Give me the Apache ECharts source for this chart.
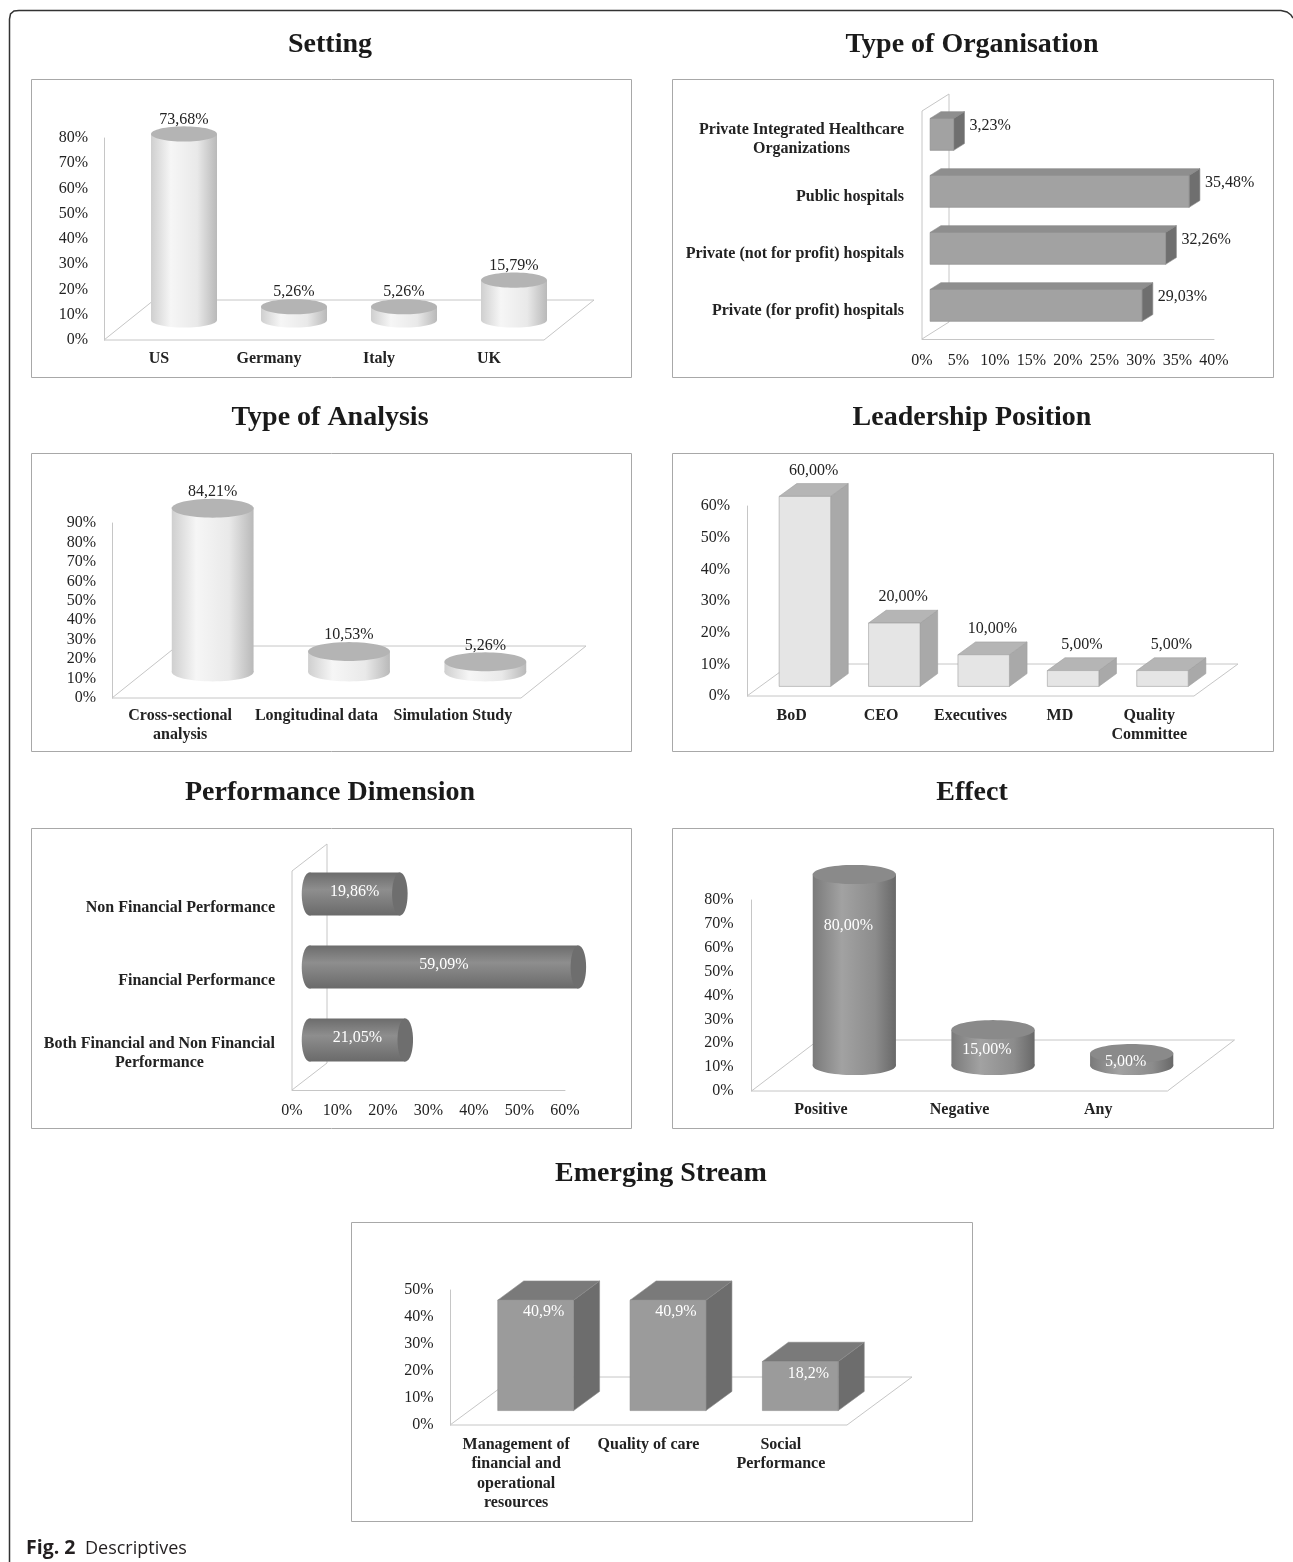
<!DOCTYPE html>
<html>
<head>
<meta charset="utf-8">
<script src="https://cdn.jsdelivr.net/npm/echarts/dist/echarts.min.js"></script>
<style>
html,body{margin:0;padding:0;background:#ffffff;}
#c{width:1293px;height:1562px;}
</style>
</head>
<body>
<div id="c"></div>
<script>
// ---------- DATA ----------
const settingCats = ['US', 'Germany', 'Italy', 'UK'];
const settingVals = [73.68, 5.26, 5.26, 15.79];

const orgCats = ['Private Integrated Healthcare\nOrganizations', 'Public hospitals', 'Private (not for profit) hospitals', 'Private (for profit) hospitals'];
const orgVals = [3.23, 35.48, 32.26, 29.03];

const analysisCats = ['Cross-sectional\nanalysis', 'Longitudinal data', 'Simulation Study'];
const analysisVals = [84.21, 10.53, 5.26];

const leaderCats = ['BoD', 'CEO', 'Executives', 'MD', 'Quality\nCommittee'];
const leaderVals = [60, 20, 10, 5, 5];

const perfCats = ['Non Financial Performance', 'Financial Performance', 'Both Financial and Non Financial\nPerformance'];
const perfVals = [19.86, 59.09, 21.05];

const effectCats = ['Positive', 'Negative', 'Any'];
const effectVals = [80, 15, 5];

const streamCats = ['Management of\nfinancial and\noperational\nresources', 'Quality of care', 'Social\nPerformance'];
const streamVals = [40.9, 40.9, 18.2];

const panelTitles = ['Setting', 'Type of Organisation', 'Type of Analysis', 'Leadership Position', 'Performance Dimension', 'Effect', 'Emerging Stream'];
const captionBold = 'Fig. 2';
const captionText = 'Descriptives';

// ---------- STYLE ----------
const SERIF = '"Liberation Serif", "Times New Roman", serif';
const TXT = '#222222';
const LINE = '#c6c6c6';

function fmt(v, d) { return v.toFixed(d).replace('.', ',') + '%'; }
function lin(x2, y2, stops) { return { type: 'linear', x: 0, y: 0, x2: x2, y2: y2, colorStops: stops, global: false }; }
function ellPts(cx, cy, rx, ry) {
  const pts = [];
  for (let k = 0; k < 64; k++) { const a = k / 64 * Math.PI * 2; pts.push([cx + rx * Math.cos(a), cy + ry * Math.sin(a)]); }
  return pts;
}

const chart = echarts.init(document.getElementById('c'), null, { renderer: 'canvas', width: 1293, height: 1562 });

const grids = [], xAxes = [], yAxes = [], series = [];

function valueAxis(gi, max, interval, margin, pos) {
  return {
    gridIndex: gi, type: 'value', min: 0, max: max, interval: interval, position: pos,
    axisLine: { show: true, lineStyle: { color: LINE, width: 1 } },
    axisTick: { show: false }, splitLine: { show: false },
    axisLabel: { formatter: '{value}%', margin: margin, fontFamily: SERIF, fontSize: 16, color: TXT, lineHeight: 19.5 }
  };
}
function catAxisX(gi, cats, margin) {
  return {
    gridIndex: gi, type: 'category', data: cats,
    axisLine: { show: false }, axisTick: { show: false }, splitLine: { show: false },
    axisLabel: { interval: 0, margin: margin, fontFamily: SERIF, fontWeight: 'bold', fontSize: 16, color: TXT, lineHeight: 19.5, hideOverlap: false }
  };
}
function catAxisY(gi, cats, margin) {
  return {
    gridIndex: gi, type: 'category', data: cats, inverse: true,
    axisLine: { show: false }, axisTick: { show: false }, splitLine: { show: false },
    axisLabel: {
      interval: 0, margin: margin, hideOverlap: false,
      formatter: function (v) { return v.split('\n').map(function (s) { return '{c|' + s + '}'; }).join('\n'); },
      rich: { c: { align: 'center', fontFamily: SERIF, fontWeight: 'bold', fontSize: 16, color: TXT, lineHeight: 19.5 } }
    }
  };
}

function floorRender(depth) {
  return function (params, api) {
    const c = params.coordSys, b = c.y + c.height, dx = depth[0], dy = depth[1];
    return {
      type: 'polygon', silent: true,
      shape: { points: [[c.x, b], [c.x + c.width, b], [c.x + c.width + dx, b + dy], [c.x + dx, b + dy]] },
      style: { fill: 'none', stroke: LINE, lineWidth: 1 }
    };
  };
}
function wallRender(depth) {
  return function (params, api) {
    const c = params.coordSys, b = c.y + c.height, dx = depth[0], dy = depth[1];
    return {
      type: 'polygon', silent: true,
      shape: { points: [[c.x, b], [c.x, c.y], [c.x + dx, c.y + dy], [c.x + dx, b + dy]] },
      style: { fill: 'none', stroke: LINE, lineWidth: 1 }
    };
  };
}

function cylV(cfg) {
  return function (params, api) {
    const i = api.value(0), v = api.value(1);
    const b = api.coord([i, 0]), t = api.coord([i, v]);
    const w = api.size([1, 0])[0] * cfg.w;
    const sx = cfg.depth[0] * 0.5, sy = cfg.depth[1] * 0.5;
    const cx = b[0] + sx, yb = b[1] + sy, yt = t[1] + sy;
    const rx = w / 2, ry = rx * 0.23;
    const kids = [
      { type: 'polygon', shape: { points: ellPts(cx, yb, rx, ry) }, style: { fill: lin(1, 0, cfg.body) } },
      { type: 'rect', shape: { x: cx - rx, y: yt, width: 2 * rx, height: yb - yt }, style: { fill: lin(1, 0, cfg.body) } },
      { type: 'polygon', shape: { points: ellPts(cx, yt, rx, ry) }, style: { fill: cfg.top } }
    ];
    let lx, ly;
    if (cfg.inside) { lx = cx - 6; ly = Math.min(yt + 51, (yt + yb) / 2 + 2); }
    else { lx = cx; ly = yt - ry - 7; }
    kids.push({ type: 'text', style: { text: fmt(v, 2), x: lx, y: ly, align: 'center', verticalAlign: 'middle', fontFamily: SERIF, fontSize: 16, fill: cfg.inside ? '#ffffff' : TXT } });
    return { type: 'group', children: kids };
  };
}
function cylH(cfg) {
  return function (params, api) {
    const v = api.value(0), i = api.value(1);
    const l = api.coord([0, i]), r = api.coord([v, i]);
    const h = api.size([0, 1])[1] * cfg.w;
    const sx = cfg.depth[0] * 0.5, sy = cfg.depth[1] * 0.5;
    const yc = l[1] + sy, xl = l[0] + sx, xr = r[0] + sx;
    const ry = h / 2, rx = ry * 0.36;
    return {
      type: 'group', children: [
        { type: 'polygon', shape: { points: ellPts(xl, yc, rx, ry) }, style: { fill: lin(0, 1, cfg.body) } },
        { type: 'rect', shape: { x: xl, y: yc - ry, width: xr - xl, height: 2 * ry }, style: { fill: lin(0, 1, cfg.body) } },
        { type: 'polygon', shape: { points: ellPts(xr, yc, rx, ry) }, style: { fill: cfg.top } },
        { type: 'text', style: { text: fmt(v, 2), x: (xl + xr) / 2, y: yc - 2, align: 'center', verticalAlign: 'middle', fontFamily: SERIF, fontSize: 16, fill: '#ffffff' } }
      ]
    };
  };
}
function boxV(cfg) {
  return function (params, api) {
    const i = api.value(0), v = api.value(1);
    const b = api.coord([i, 0]), t = api.coord([i, v]);
    const w = api.size([1, 0])[0] * cfg.w;
    const D = cfg.depth, fx = D[0] * 0.3, fy = D[1] * 0.3, tx = D[0] * 0.4, ty = D[1] * 0.4;
    const x0 = b[0] + fx - w / 2, x1 = x0 + w, yT = t[1] + fy, yB = b[1] + fy;
    const kids = [
      { type: 'polygon', shape: { points: [[x1, yT], [x1 + tx, yT + ty], [x1 + tx, yB + ty], [x1, yB]] }, style: { fill: cfg.side, stroke: cfg.stroke, lineWidth: 0.6 } },
      { type: 'polygon', shape: { points: [[x0, yT], [x1, yT], [x1 + tx, yT + ty], [x0 + tx, yT + ty]] }, style: { fill: cfg.top, stroke: cfg.stroke, lineWidth: 0.6 } },
      { type: 'rect', shape: { x: x0, y: yT, width: w, height: yB - yT }, style: { fill: cfg.front, stroke: cfg.stroke, lineWidth: 0.6 } }
    ];
    let lx, ly;
    if (cfg.inside) { lx = (x0 + x1) / 2 + 8; ly = yT + 12; }
    else { lx = (x0 + x1) / 2 + tx / 2; ly = yT + ty - 13; }
    kids.push({ type: 'text', style: { text: fmt(v, cfg.dec), x: lx, y: ly, align: 'center', verticalAlign: 'middle', fontFamily: SERIF, fontSize: 16, fill: cfg.inside ? '#ffffff' : TXT } });
    return { type: 'group', children: kids };
  };
}
function boxH(cfg) {
  return function (params, api) {
    const v = api.value(0), i = api.value(1);
    const l = api.coord([0, i]), r = api.coord([v, i]);
    const h = api.size([0, 1])[1] * cfg.w;
    const D = cfg.depth, fx = D[0] * 0.3, fy = D[1] * 0.3, tx = D[0] * 0.4, ty = D[1] * 0.4;
    const yc = l[1] + fy, y0 = yc - h / 2, y1 = yc + h / 2, xl = l[0] + fx, xr = r[0] + fx;
    return {
      type: 'group', children: [
        { type: 'polygon', shape: { points: [[xl, y0], [xr, y0], [xr + tx, y0 + ty], [xl + tx, y0 + ty]] }, style: { fill: cfg.top, stroke: cfg.stroke, lineWidth: 0.6 } },
        { type: 'polygon', shape: { points: [[xr, y0], [xr + tx, y0 + ty], [xr + tx, y1 + ty], [xr, y1]] }, style: { fill: cfg.side, stroke: cfg.stroke, lineWidth: 0.6 } },
        { type: 'rect', shape: { x: xl, y: y0, width: xr - xl, height: h }, style: { fill: cfg.front, stroke: cfg.stroke, lineWidth: 0.6 } },
        { type: 'text', style: { text: fmt(v, 2), x: xr + tx + 5, y: yc - 9, align: 'left', verticalAlign: 'middle', fontFamily: SERIF, fontSize: 16, fill: TXT } }
      ]
    };
  };
}

const lightBody = [{ offset: 0, color: '#cfcfcf' }, { offset: 0.3, color: '#f6f6f6' }, { offset: 0.7, color: '#e9e9e9' }, { offset: 1, color: '#b9b9b9' }];
const darkBody = [{ offset: 0, color: '#7a7a7a' }, { offset: 0.35, color: '#a2a2a2' }, { offset: 0.75, color: '#8c8c8c' }, { offset: 1, color: '#686868' }];
const darkBodyH = [{ offset: 0, color: '#6c6c6c' }, { offset: 0.4, color: '#8e8e8e' }, { offset: 1, color: '#6a6a6a' }];

function addVertical(gi, rect, cats, vals, max, xMargin, yMargin, depth, render) {
  grids.push({ left: rect[0], top: rect[1], width: rect[2], height: rect[3], outerBoundsMode: 'none', containLabel: false });
  xAxes.push(catAxisX(gi, cats, xMargin));
  yAxes.push(valueAxis(gi, max, 10, yMargin, 'left'));
  series.push({ type: 'custom', xAxisIndex: gi, yAxisIndex: gi, data: [[0, 0]], renderItem: floorRender(depth), silent: true, z: 1, clip: false });
  series.push({ type: 'custom', xAxisIndex: gi, yAxisIndex: gi, data: vals.map(function (v, i) { return [i, v]; }), renderItem: render, z: 3, clip: false });
}
function addHorizontal(gi, rect, cats, vals, max, interval, xMargin, yMargin, depth, render) {
  grids.push({ left: rect[0], top: rect[1], width: rect[2], height: rect[3], outerBoundsMode: 'none', containLabel: false });
  xAxes.push(valueAxis(gi, max, interval, xMargin, 'bottom'));
  yAxes.push(catAxisY(gi, cats, yMargin));
  series.push({ type: 'custom', xAxisIndex: gi, yAxisIndex: gi, data: [[0, 0]], renderItem: wallRender(depth), silent: true, z: 1, clip: false });
  series.push({ type: 'custom', xAxisIndex: gi, yAxisIndex: gi, data: vals.map(function (v, i) { return [v, i]; }), renderItem: render, z: 3, clip: false });
}

addVertical(0, [104, 138, 440, 202], settingCats, settingVals, 80, 9, 16, [50, -40],
  cylV({ depth: [50, -40], w: 0.6, body: lightBody, top: '#b4b4b4' }));
addHorizontal(1, [922, 111, 292, 228], orgCats, orgVals, 40, 5, 12, 18, [27, -17],
  boxH({ depth: [27, -17], w: 0.56, front: '#a2a2a2', top: '#8e8e8e', side: '#6f6f6f', stroke: '#8a8a8a' }));
addVertical(2, [112, 523, 409, 175], analysisCats, analysisVals, 90, 8, 16, [65, -52],
  cylV({ depth: [65, -52], w: 0.6, body: lightBody, top: '#b4b4b4' }));
addVertical(3, [747, 506, 447, 190], leaderCats, leaderVals, 60, 10, 17, [44, -32],
  boxV({ depth: [44, -32], w: 0.576, front: '#e5e5e5', top: '#b5b5b5', side: '#a9a9a9', stroke: '#9e9e9e', dec: 2 }));
addHorizontal(4, [292, 871, 273, 219], perfCats, perfVals, 60, 10, 11, 17, [35, -27],
  cylH({ depth: [35, -27], w: 0.59, body: darkBodyH, top: '#6e6e6e' }));
addVertical(5, [751.5, 900, 416, 191], effectCats, effectVals, 80, 9, 18, [67, -51],
  cylV({ depth: [67, -51], w: 0.6, body: darkBody, top: '#8a8a8a', inside: true }));
addVertical(6, [450, 1290, 397, 135], streamCats, streamVals, 50, 10, 16.5, [65, -48],
  boxV({ depth: [65, -48], w: 0.573, front: '#9b9b9b', top: '#7a7a7a', side: '#6d6d6d', stroke: '#8a8a8a', dec: 1, inside: true }));

// ---------- DECORATION ----------
const boxes = [[31, 79, 600, 298], [672, 79, 601, 298], [31, 453, 600, 298], [672, 453, 601, 298], [31, 828, 600, 300], [672, 828, 601, 300], [351, 1222, 621, 299]];
const titlePos = [[330, 45], [972, 45], [330, 418], [972, 418], [330, 793], [972, 793], [661, 1174]];
const graphics = [];
graphics.push({ type: 'polyline', z: 0, shape: { points: [[9.5, 1562], [9.5, 19], [10.5, 14], [14, 11], [19, 10.5], [1281, 10.5], [1287, 12], [1291, 15], [1293, 18]] }, style: { fill: 'none', stroke: '#333333', lineWidth: 1.5 } });
boxes.forEach(function (b) {
  graphics.push({ type: 'rect', z: 0, shape: { x: b[0] + 0.5, y: b[1] + 0.5, width: b[2], height: b[3] }, style: { fill: 'none', stroke: '#a8a8a8', lineWidth: 1 } });
});
titlePos.forEach(function (p, k) {
  graphics.push({ type: 'text', z: 5, style: { text: panelTitles[k], x: p[0], y: p[1], align: 'center', verticalAlign: 'middle', font: 'bold 28px ' + SERIF, fill: '#1a1a1a' } });
});
graphics.push({ type: 'text', z: 5, style: { text: captionBold, x: 26, y: 1548, align: 'left', verticalAlign: 'middle', font: 'bold 19.5px "Open Sans", "Noto Sans", sans-serif', fill: '#231f20' } });
graphics.push({ type: 'text', z: 5, style: { text: captionText, x: 85, y: 1549, align: 'left', verticalAlign: 'middle', font: '18px "Open Sans", "Noto Sans", sans-serif', fill: '#231f20' } });

chart.setOption({
  animation: false,
  backgroundColor: '#ffffff',
  textStyle: { fontFamily: SERIF },
  grid: grids,
  xAxis: xAxes,
  yAxis: yAxes,
  series: series,
  graphic: { elements: graphics }
});
</script>
</body>
</html>
